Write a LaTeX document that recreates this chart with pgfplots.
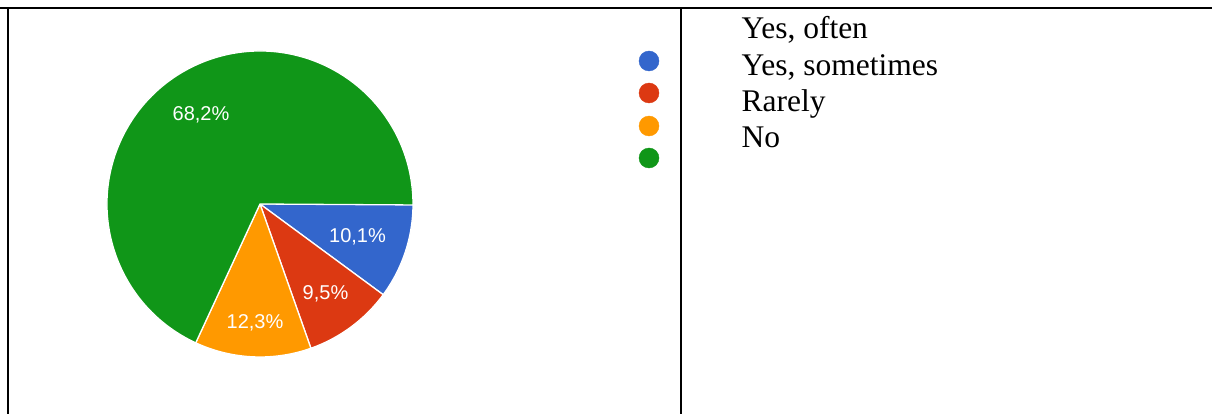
\documentclass[border=0pt]{standalone}
\usepackage{pgfplots}
\pgfplotsset{compat=1.18}
\usepackage{pgfplotstable}
\usepackage{fontspec}
\setmainfont{Liberation Serif}
\newfontfamily\arialfont{Liberation Sans}
\definecolor{gblue}{HTML}{3366CC}
\definecolor{gred}{HTML}{DC3912}
\definecolor{gorange}{HTML}{FF9900}
\definecolor{ggreen}{HTML}{109618}

% slice values (percent), in clockwise order starting at 3 o'clock
\pgfplotstableread{
value lx ly
10.1 357.5 236.7
9.5 325.5 293.3
12.3 255 322.5
68.2 201 114.5
}\piedata

\begin{document}
\begin{tikzpicture}
\pgfplotstablegetelem{0}{value}\of\piedata \let\va\pgfplotsretval
\pgfplotstablegetelem{1}{value}\of\piedata \let\vb\pgfplotsretval
\pgfplotstablegetelem{2}{value}\of\piedata \let\vc\pgfplotsretval
\pgfplotstablegetelem{3}{value}\of\piedata \let\vd\pgfplotsretval
\pgfmathsetmacro\aA{-3.6*\va}
\pgfmathsetmacro\aB{\aA-3.6*\vb}
\pgfmathsetmacro\aC{\aB-3.6*\vc}
\pgfmathsetmacro\aD{\aC-3.6*\vd}
\useasboundingbox (0,0) rectangle (1212pt,414pt);
\begin{axis}[
  at={(0,0)}, anchor=south west,
  scale only axis, width=1212pt, height=414pt,
  xmin=0, xmax=1212, ymin=0, ymax=414, y dir=reverse,
  hide axis, clip=false,
]
% pie wedges
\fill[gblue, draw=white, line width=1.3pt] (axis cs:260,204) -- ([shift={(0:153pt)}]axis cs:260,204) arc[start angle=0, end angle=\aA, radius=153pt] -- cycle;
\fill[gred, draw=white, line width=1.3pt] (axis cs:260,204) -- ([shift={(\aA:153pt)}]axis cs:260,204) arc[start angle=\aA, end angle=\aB, radius=153pt] -- cycle;
\fill[gorange, draw=white, line width=1.3pt] (axis cs:260,204) -- ([shift={(\aB:153pt)}]axis cs:260,204) arc[start angle=\aB, end angle=\aC, radius=153pt] -- cycle;
\fill[ggreen, draw=white, line width=1.3pt] (axis cs:260,204) -- ([shift={(\aC:153pt)}]axis cs:260,204) arc[start angle=\aC, end angle=\aD, radius=153pt] -- cycle;
% slice labels
\addplot[only marks, mark=none, nodes near coords={\pgfmathprintnumber[assume math mode=true, use comma, fixed, fixed zerofill, precision=1]{\pgfplotspointmeta}\%},
  point meta=explicit,
  every node near coord/.append style={anchor=center, text=white, font=\arialfont\fontsize{20}{23}\selectfont, inner sep=0pt}]
  table[x=lx, y=ly, meta=value] {\piedata};
% legend dots
\addplot[only marks, mark=*, mark size=10pt, color=gblue] coordinates {(649,61)};
\addplot[only marks, mark=*, mark size=10pt, color=gred] coordinates {(649,93)};
\addplot[only marks, mark=*, mark size=10pt, color=gorange] coordinates {(649,126)};
\addplot[only marks, mark=*, mark size=10pt, color=ggreen] coordinates {(649,158)};
% table lines
\draw[line width=2pt] (axis cs:0,8.3) -- (axis cs:1212,8.3);
\draw[line width=2pt] (axis cs:7.7,7.3) -- (axis cs:7.7,414);
\draw[line width=2pt] (axis cs:680.7,7.3) -- (axis cs:680.7,414);
% legend texts
\begin{scope}[every node/.style={anchor=base west, inner sep=0pt, font=\fontsize{31.5}{36}\selectfont}]
\node at (axis cs:741.5,38.3) {Yes, often};
\node at (axis cs:741.5,75.7) {Yes, sometimes};
\node at (axis cs:741.5,111.7) {Rarely};
\node at (axis cs:741.5,147.3) {No};
\end{scope}
\end{axis}
\end{tikzpicture}
\end{document}
